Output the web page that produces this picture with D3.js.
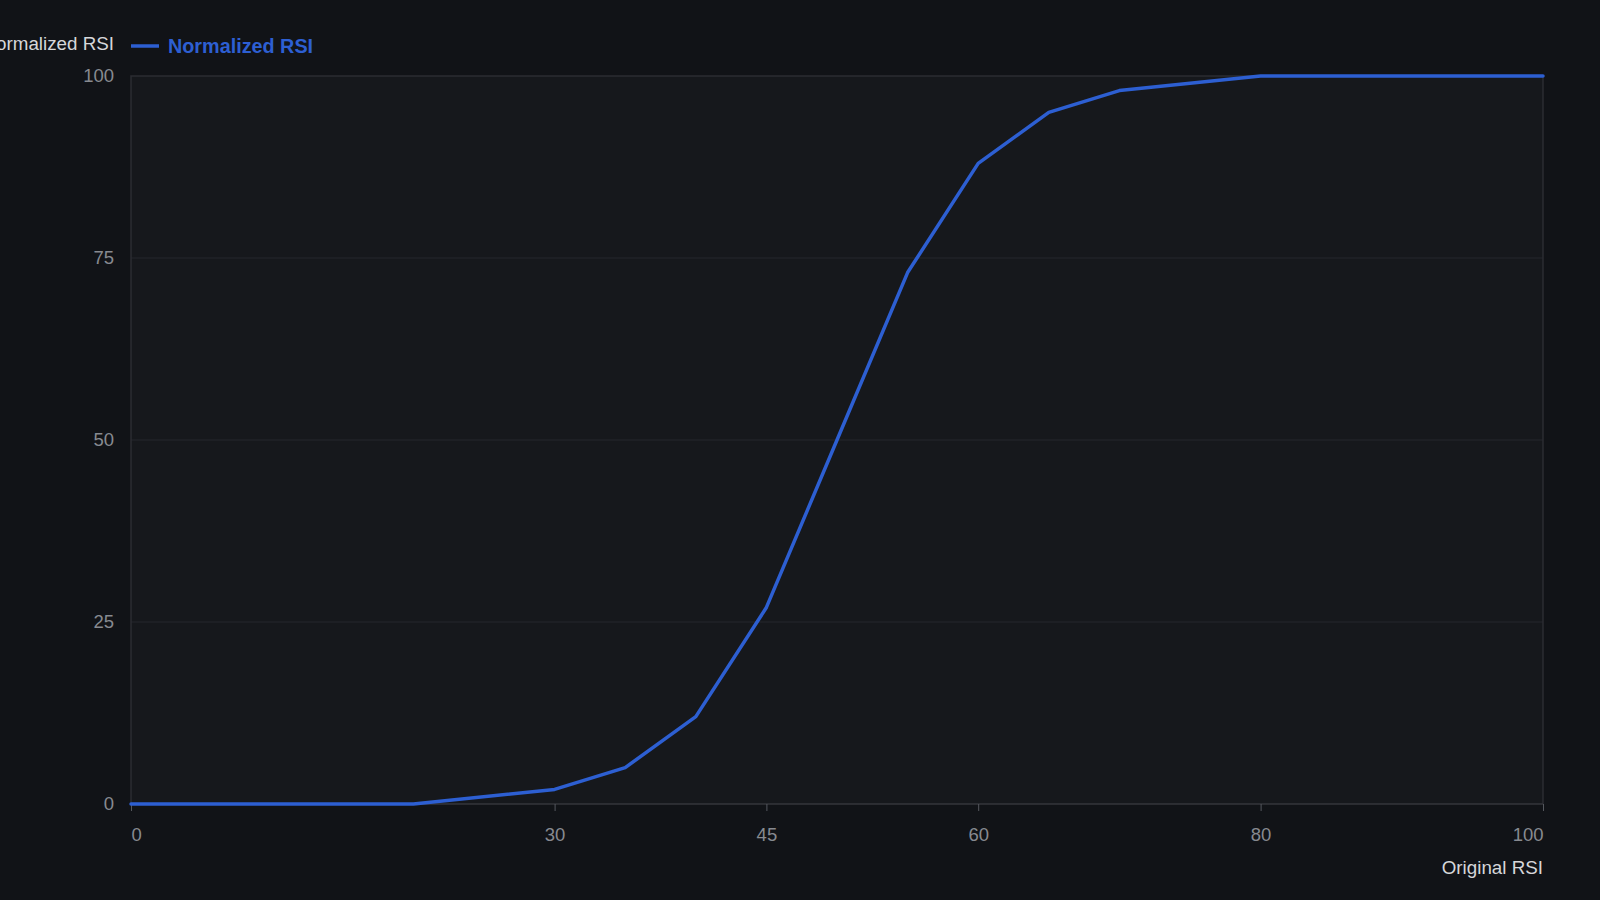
<!DOCTYPE html>
<html>
<head>
<meta charset="utf-8">
<script src="https://cdn.jsdelivr.net/npm/d3@7"></script>
<style>
  html, body { margin: 0; padding: 0; background: #111317; }
  svg { display: block; }
</style>
</head>
<body>
<div id="chart"></div>
<script>
// data
const originalRsi = [0, 20, 30, 35, 40, 45, 50, 55, 60, 65, 70, 80, 100];
const normalizedRsi = [0, 0, 2, 5, 12, 27, 50, 73, 88, 95, 98, 100, 100];
const xTickValues = [0, 30, 45, 60, 80, 100];
const yTickValues = [0, 25, 50, 75, 100];
const seriesName = 'Normalized RSI';

const width = 1600, height = 900;
const margin = { top: 76, right: 57, bottom: 96, left: 131 };

const svg = d3.select('#chart').append('svg')
  .attr('width', width)
  .attr('height', height)
  .style('font-family', 'Liberation Sans, Arial, sans-serif');

svg.append('rect').attr('width', width).attr('height', height).attr('fill', '#111317');

const x = d3.scaleLinear().domain([0, 100]).range([margin.left, width - margin.right]);
const y = d3.scaleLinear().domain([0, 100]).range([height - margin.bottom, margin.top]);

// plot area
svg.append('rect')
  .attr('x', x(0)).attr('y', y(100))
  .attr('width', x(100) - x(0)).attr('height', y(0) - y(100))
  .attr('fill', '#16181c');

// grid
svg.append('g').selectAll('line')
  .data(yTickValues.filter(d => d > 0 && d < 100))
  .enter().append('line')
  .attr('x1', x(0)).attr('x2', x(100))
  .attr('y1', d => y(d)).attr('y2', d => y(d))
  .attr('stroke', '#25272c').attr('stroke-width', 1);

// frame
svg.append('path')
  .attr('d', `M${x(0)},${y(0)}V${y(100)}H${x(100)}V${y(0)}`)
  .attr('fill', 'none').attr('stroke', '#2b2d32').attr('stroke-width', 1.5);
svg.append('line')
  .attr('x1', x(0)).attr('x2', x(100)).attr('y1', y(0)).attr('y2', y(0))
  .attr('stroke', '#34363b').attr('stroke-width', 1.5);

// x axis
const xAxis = svg.append('g').attr('transform', `translate(0,${y(0)})`)
  .call(d3.axisBottom(x).tickValues(xTickValues).tickSize(7).tickPadding(17).tickFormat(d3.format('d')));
xAxis.select('.domain').remove();
xAxis.selectAll('line').attr('stroke', '#55585e');
xAxis.selectAll('text')
  .attr('fill', '#878a90').style('font-size', '18.5px')
  .attr('text-anchor', (d, i) => i === 0 ? 'start' : (i === xTickValues.length - 1 ? 'end' : 'middle'));

// y axis
const yAxis = svg.append('g').attr('transform', `translate(${x(0)},0)`)
  .call(d3.axisLeft(y).tickValues(yTickValues).tickSize(0).tickPadding(17));
yAxis.select('.domain').remove();
yAxis.selectAll('text').attr('fill', '#878a90').style('font-size', '18.5px');

// axis titles
svg.append('text')
  .attr('x', x(100)).attr('y', 874)
  .attr('text-anchor', 'end')
  .attr('fill', '#d6d7da').style('font-size', '18.8px')
  .text('Original RSI');

svg.append('text')
  .attr('x', 114).attr('y', 50)
  .attr('text-anchor', 'end')
  .attr('fill', '#d6d7da').style('font-size', '18.8px')
  .text('Normalized RSI');

// legend
const legend = svg.append('g');
legend.append('line')
  .attr('x1', 131).attr('x2', 159).attr('y1', 46).attr('y2', 46)
  .attr('stroke', '#2d5fd2').attr('stroke-width', 3.5);
legend.append('text')
  .attr('x', 168).attr('y', 53)
  .attr('fill', '#2d5fd2').style('font-size', '19.8px').style('font-weight', 'bold')
  .text(seriesName);

// line
const points = originalRsi.map((v, i) => [v, normalizedRsi[i]]);
const line = d3.line().x(d => x(d[0])).y(d => y(d[1]));

svg.append('path')
  .datum(points)
  .attr('d', line)
  .attr('fill', 'none')
  .attr('stroke', '#2d5fd2')
  .attr('stroke-width', 3.5)
  .attr('stroke-linejoin', 'round')
  .attr('stroke-linecap', 'round');
</script>
</body>
</html>
